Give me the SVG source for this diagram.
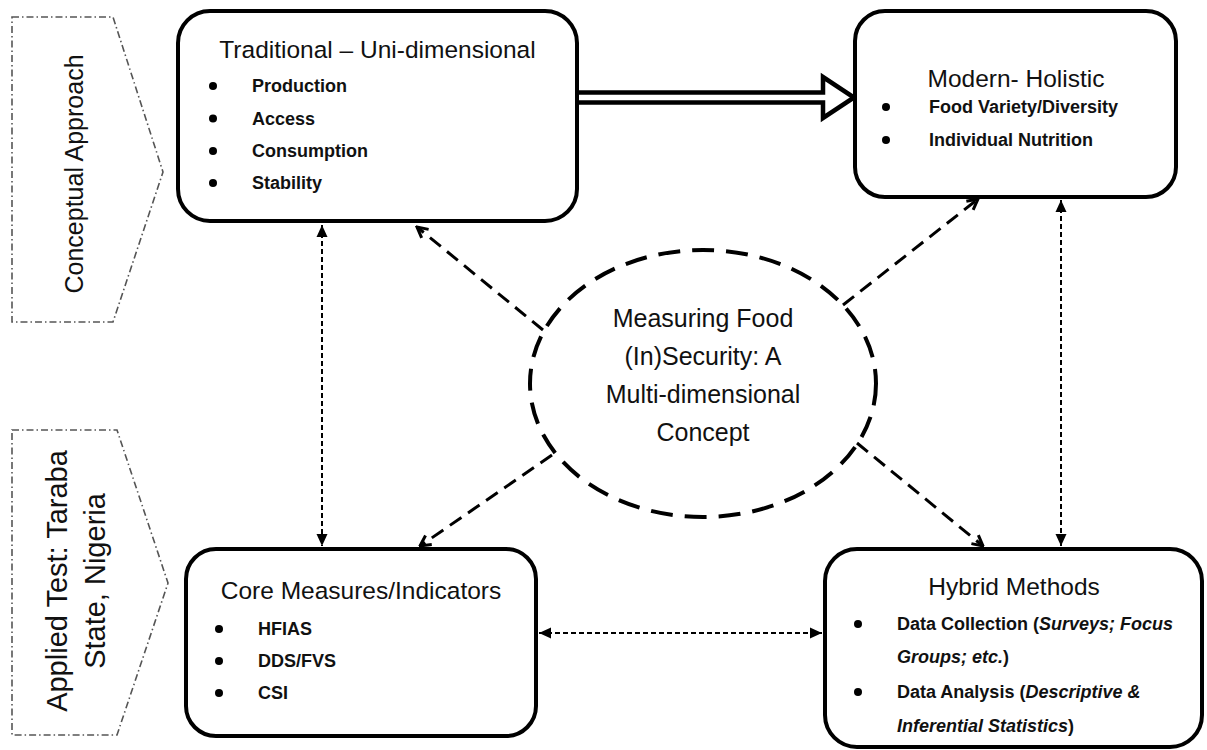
<svg xmlns="http://www.w3.org/2000/svg" width="1207" height="750" viewBox="0 0 1207 750">
<style>
  .box { fill: #fff; stroke: #000; stroke-width: 4; }
  .pent { fill: none; stroke: #555; stroke-width: 1.6; stroke-dasharray: 7 3 1.5 3; }
  .title { font-family: "Liberation Sans", Arial, sans-serif; font-size: 24.5px; fill: #111; text-anchor: middle; }
  .item { font-family: "Liberation Sans", Arial, sans-serif; font-size: 18px; font-weight: bold; fill: #111; }
  .side { font-family: "Liberation Sans", Arial, sans-serif; fill: #111; text-anchor: middle; }
  .ell { font-family: "Liberation Sans", Arial, sans-serif; font-size: 25px; fill: #111; text-anchor: middle; }
  .bul { fill: #000; }
  .dash { fill: none; stroke: #000; stroke-width: 3; stroke-dasharray: 14 8; }
  .dot { fill: none; stroke: #000; stroke-width: 2; stroke-dasharray: 5 3; }
</style>
<defs>
  <marker id="open" viewBox="0 0 14 14" refX="12.5" refY="7" markerWidth="14" markerHeight="14" markerUnits="userSpaceOnUse" orient="auto">
    <path d="M2,1.5 L12.5,7 L2,12.5" fill="none" stroke="#000" stroke-width="3" stroke-dasharray="none"/>
  </marker>
  <marker id="solid" viewBox="0 0 12 12" refX="12" refY="6" markerWidth="12" markerHeight="12" markerUnits="userSpaceOnUse" orient="auto-start-reverse">
    <path d="M0,0.5 L12,6 L0,11.5 Z" fill="#000" stroke="none"/>
  </marker>
</defs>

<g id="side-conceptual">
  <polygon class="pent" points="12,17 113,17 163,172 113,322 12,322"/>
  <text class="side" font-size="25" transform="translate(83,174) rotate(-90)">Conceptual Approach</text>
</g>
<g id="side-applied">
  <polygon class="pent" points="12,430 117,430 168,583 117,735 12,735"/>
  <text class="side" font-size="29" transform="translate(67,581) rotate(-90)">Applied Test: Taraba</text>
  <text class="side" font-size="29" transform="translate(105,581) rotate(-90)">State, Nigeria</text>
</g>

<g id="connectors">
  <path d="M578,92.5 H823 V77 L854,97.5 L823,118 V102.5 H578" fill="#fff" stroke="#000" stroke-width="4.5" stroke-linejoin="miter"/>
  <line class="dot" x1="322" y1="225" x2="322" y2="546" marker-start="url(#solid)" marker-end="url(#solid)"/>
  <line class="dot" x1="1061" y1="200" x2="1061" y2="546" marker-start="url(#solid)" marker-end="url(#solid)"/>
  <line class="dot" x1="539" y1="633" x2="822" y2="633" marker-start="url(#solid)" marker-end="url(#solid)"/>
  <line class="dash" x1="543" y1="330" x2="417" y2="227" marker-end="url(#open)"/>
  <line class="dash" x1="843" y1="305" x2="978" y2="199" marker-end="url(#open)"/>
  <line class="dash" x1="552" y1="455" x2="420" y2="546" marker-end="url(#open)"/>
  <line class="dash" x1="857" y1="443" x2="983" y2="546" marker-end="url(#open)"/>
</g>

<g id="traditional">
  <rect class="box" x="178" y="11" width="399" height="210" rx="32"/>
  <text class="title" x="377.5" y="58">Traditional – Uni-dimensional</text>
  <circle class="bul" cx="213" cy="86" r="4"/>
  <text class="item" x="252" y="92">Production</text>
  <circle class="bul" cx="213" cy="118.5" r="4"/>
  <text class="item" x="252" y="124.5">Access</text>
  <circle class="bul" cx="213" cy="151" r="4"/>
  <text class="item" x="252" y="157">Consumption</text>
  <circle class="bul" cx="213" cy="183" r="4"/>
  <text class="item" x="252" y="189">Stability</text>
</g>

<g id="modern">
  <rect class="box" x="855" y="11" width="321" height="186" rx="30"/>
  <text class="title" x="1016" y="87">Modern- Holistic</text>
  <circle class="bul" cx="886" cy="107" r="4"/>
  <text class="item" x="929" y="113">Food Variety/Diversity</text>
  <circle class="bul" cx="886" cy="140" r="4"/>
  <text class="item" x="929" y="146">Individual Nutrition</text>
</g>

<g id="core">
  <rect class="box" x="186" y="549" width="350" height="187" rx="30"/>
  <text class="title" x="361" y="599">Core Measures/Indicators</text>
  <circle class="bul" cx="219" cy="629" r="4"/>
  <text class="item" x="258" y="635">HFIAS</text>
  <circle class="bul" cx="219" cy="661" r="4"/>
  <text class="item" x="258" y="667">DDS/FVS</text>
  <circle class="bul" cx="219" cy="693" r="4"/>
  <text class="item" x="258" y="699">CSI</text>
</g>

<g id="hybrid">
  <rect class="box" x="825" y="549" width="377" height="198" rx="32"/>
  <text class="title" x="1014" y="595">Hybrid Methods</text>
  <circle class="bul" cx="858" cy="624" r="4"/>
  <text class="item" x="897" y="630">Data Collection (<tspan font-style="italic">Surveys; Focus</tspan></text>
  <text class="item" x="897" y="663"><tspan font-style="italic">Groups; etc.</tspan>)</text>
  <circle class="bul" cx="858" cy="692" r="4"/>
  <text class="item" x="897" y="698">Data Analysis (<tspan font-style="italic">Descriptive &amp;</tspan></text>
  <text class="item" x="897" y="732"><tspan font-style="italic">Inferential Statistics</tspan>)</text>
</g>

<g id="concept">
  <ellipse cx="703" cy="383.5" rx="173" ry="133.5" fill="none" stroke="#000" stroke-width="4" stroke-dasharray="22 12"/>
  <text class="ell" x="703" y="327">Measuring Food</text>
  <text class="ell" x="703" y="365">(In)Security: A</text>
  <text class="ell" x="703" y="403">Multi-dimensional</text>
  <text class="ell" x="703" y="441">Concept</text>
</g>
</svg>
